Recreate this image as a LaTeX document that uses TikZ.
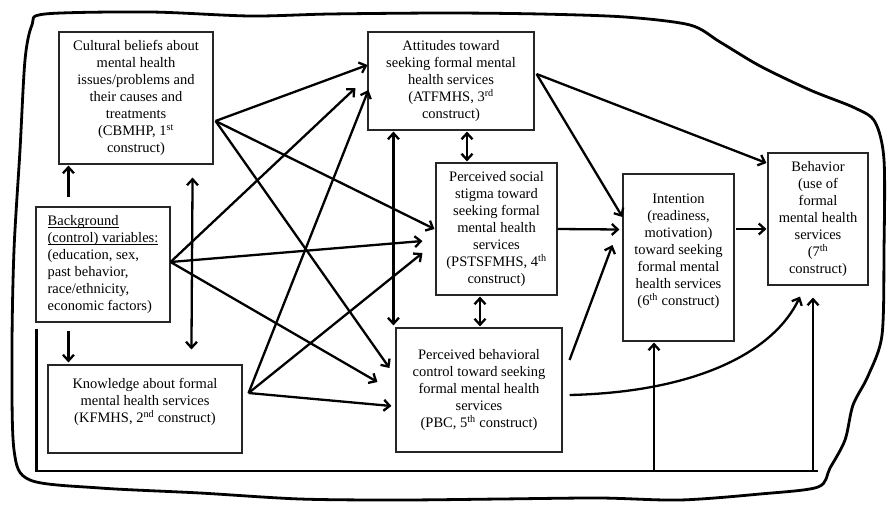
\documentclass[tikz,border=0pt]{standalone}
\usepackage{fontspec}
\setmainfont{Liberation Serif}
\usetikzlibrary{arrows.meta,calc}
\newcommand\myfs{\fontsize{14.5}{17}\selectfont}
\newlength\myullen
\newcommand\myul[1]{\settowidth\myullen{#1}\rlap{\rule[-2.2pt]{\myullen}{0.8pt}}#1}
\begin{document}
\begin{tikzpicture}[x=1pt,y=-1pt,
 box/.style={draw=black!85, line width=1.1pt, align=center, inner sep=0pt, font=\myfs},
 txt/.style={align=center, inner sep=0pt, font=\myfs},
 arr/.style={line width=2.3pt, -{Straight Barb[length=6pt,width=11pt]}},
 darr/.style={line width=2.3pt, {Straight Barb[length=6pt,width=11pt]}-{Straight Barb[length=6pt,width=11pt]}},
 ln/.style={line width=2.3pt},
 border/.style={line width=2.8pt, line join=round}]
\useasboundingbox (0,0) rectangle (890,506);
\fill[white] (0,0) rectangle (890,506);

% hand-drawn outer border
\draw[border] plot[smooth cycle, tension=0.5] coordinates {
 (45,14) (150,12) (250,16) (330,14) (445,13) (540,14) (625,17) (690,25) (720,42)
 (760,66) (810,90) (855,108) (875,122) (884,160) (884,250) (882,335) (868,376)
 (853,405) (845,440) (830,468) (818,487) (760,494) (680,500) (600,498) (500,499)
 (400,500) (300,499) (200,493) (100,488) (30,480) (14,450) (12,350) (14,250)
 (20,150) (25,60) (32,25)};

% boxes
\node[box, minimum width=154pt, minimum height=132pt] (cb) at (136,98)
 {Cultural beliefs about\\mental health\\issues/problems and\\their causes and\\treatments\\(CBMHP, 1\textsuperscript{st}\\construct)};
\node[box, align=left, minimum width=134pt, minimum height=115pt] (bg) at (103,264.5)
 {\myul{Background}\\\myul{(control) variables:}\\(education, sex,\\past behavior,\\race/ethnicity,\\economic factors)};
\node[box, minimum width=194pt, minimum height=88pt] (kf) at (145,409) {};
\node[txt] (kft) at (145,402) {Knowledge about formal\\mental health services\\(KFMHS, 2\textsuperscript{nd} construct)};
\node[box, minimum width=166pt, minimum height=98pt] (at) at (451,81)
 {Attitudes toward\\seeking formal mental\\health services\\(ATFMHS, 3\textsuperscript{rd}\\construct)};
\node[box, minimum width=121pt, minimum height=132pt] (ps) at (496.5,229)
 {Perceived social\\stigma toward\\seeking formal\\mental health\\services\\(PSTSFMHS, 4\textsuperscript{th}\\construct)};
\node[box, minimum width=166pt, minimum height=124pt] (pb) at (479,390)
 {Perceived behavioral\\control toward seeking\\formal mental health\\services\\(PBC, 5\textsuperscript{th} construct)};
\node[box, minimum width=111pt, minimum height=167pt] (in) at (678.5,257.5) {};
\node[txt] (int) at (678.5,251) {Intention\\(readiness,\\motivation)\\toward seeking\\formal mental\\health services\\(6\textsuperscript{th} construct)};
\node[box, minimum width=100pt, minimum height=132pt] (be) at (818,219)
 {Behavior\\(use of\\formal\\mental health\\services\\(7\textsuperscript{th}\\construct)};

% fan-out points
\coordinate (cbo) at ([shift={(2,23)}]cb.east);
\coordinate (bgo) at ([shift={(0,-2.5)}]bg.east);
\coordinate (kfo) at ([shift={(6,-16)}]kf.east);
\coordinate (ato) at ([shift={(2,-7)}]at.east);

% vertical links
\draw[arr] ([shift={(33,-9)}]bg.north west) -- ([shift={(10,1)}]cb.south west);
\draw[arr] ([shift={(33,8)}]bg.south west) -- ([shift={(21,-2)}]kf.north west);
\draw[darr] ([shift={(-21,13)}]cb.south east) -- ([shift={(144,-15)}]kf.north west);
\draw[darr] ([shift={(26,1)}]at.south west) -- ([shift={(-2,-2)}]pb.north west);
\draw[darr] ([shift={(16,1)}]at.south) -- ([shift={(-29.5,-1)}]ps.north);
\draw[darr] ([shift={(-16.5,1)}]ps.south) -- ([shift={(1,-1)}]pb.north);

% from CBMHP
\draw[arr] (cbo) -- ([shift={(0,-16)}]at.west);
\draw[arr] (cbo) -- ([shift={(-1,0)}]ps.west);
\draw[arr] (cbo) -- ([shift={(-6,-22)}]pb.west);
% from Background
\draw[arr] (bgo) -- ([shift={(-12,7)}]at.west);
\draw[arr] (bgo) -- ([shift={(-13,12)}]ps.west);
\draw[arr] (bgo) -- ([shift={(-18,-8)}]pb.west);
% from KFMHS
\draw[arr] (kfo) -- ([shift={(1,9)}]at.west);
\draw[arr] (kfo) -- ([shift={(-13,24)}]ps.west);
\draw[arr] (kfo) -- ([shift={(-4,16)}]pb.west);
% from ATFMHS
\draw[arr] (ato) -- ([shift={(-1,-56)}]be.west);
\draw[arr] (ato) -- ([shift={(0,-40.5)}]in.west);
% to intention / behavior
\draw[arr] (ps.east) -- ([shift={(-3,-28)}]in.west);
\draw[arr] ([shift={(7,-30)}]pb.east) -- ([shift={(-10,-12.5)}]in.west);
\draw[arr] ([shift={(1,-28.5)}]in.east) -- ([shift={(-1,10)}]be.west);
\draw[arr] ([shift={(7,5)}]pb.east) .. controls (700,392) and (775,350) .. ([shift={(-18,11)}]be.south);

% bottom feedback line
\coordinate (bse) at (818,471);
\coordinate (inb) at ([shift={(-24.5,1)}]in.south);
\coordinate (beb) at ([shift={(-5,12)}]be.south);
\draw[ln] ([shift={(1,6)}]bg.south west) |- (bse);
\draw[arr] (inb |- bse) -- (inb);
\draw[arr] (beb |- bse) -- (beb);
\end{tikzpicture}
\end{document}
